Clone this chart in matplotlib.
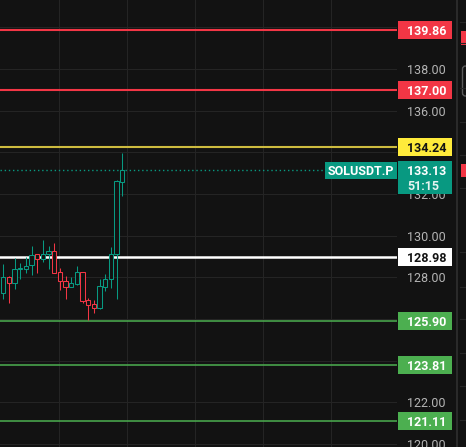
import matplotlib
matplotlib.use('Agg')
import matplotlib.pyplot as plt
from matplotlib.patches import Rectangle, FancyBboxPatch

# ---- data ----
opens  = [127.23, 128.00, 127.71, 128.38, 128.41, 128.57, 129.10, 128.86, 129.13, 129.25, 128.24,
          127.81, 127.55, 127.68, 128.24, 126.89, 126.72, 126.54, 127.55, 127.90, 129.13, 132.59]
highs  = [128.64, 128.06, 128.93, 128.67, 128.99, 129.50, 129.10, 129.79, 129.50, 129.65, 128.45,
          128.06, 128.03, 128.54, 128.24, 127.01, 126.91, 127.90, 128.16, 129.45, 132.67, 133.97]
lows   = [126.97, 126.75, 127.45, 127.93, 128.22, 128.13, 128.22, 128.73, 128.41, 128.19, 127.39,
          126.97, 127.55, 127.61, 126.78, 125.95, 126.27, 126.49, 127.36, 127.49, 126.97, 131.92]
closes = [128.00, 127.71, 128.38, 128.45, 128.54, 129.09, 128.86, 129.135, 129.25, 128.19, 127.81,
          127.55, 127.71, 128.24, 126.88, 126.69, 126.54, 127.58, 127.90, 129.13, 132.61, 133.13]

level_prices = [139.86, 137.00, 134.24, 128.98, 125.90, 123.81, 121.11]
level_kinds  = ['red', 'red', 'yellow', 'white', 'green', 'green', 'green']
tick_prices  = [138, 136, 132, 130, 128, 122, 120]
grid_prices  = [140, 138, 136, 134, 132, 130, 128, 126, 124, 122, 120]
vgrid_index  = [9.83, 21.83, 33.83, 45.83, 57.83]
last_price   = 133.13
countdown    = '51:15'
symbol       = 'SOLUSDT.P'

# ---- style ----
W, H = 466, 447
BG = '#121212'
GRID = '#242424'
UP = '#089981'
DOWN = '#F23645'
line_style = {
    'red':    dict(color='#F23645', lw=1.5, box='#F23645', txt='white'),
    'yellow': dict(color='#CDBB3F', lw=1.5, box='#FFEB3B', txt='#131313'),
    'white':  dict(color='#FFFFFF', lw=1.8, box='#FFFFFF', txt='#131313'),
    'green':  dict(color='#4CAF50', lw=1.1, box='#4CAF50', txt='white'),
}
FONT = ['Roboto', 'DejaVu Sans']

ymax, ymin = 141.315, 119.855
ppu = H / (ymax - ymin)          # pixels per price unit
px_per_bar = 5.667
xmin = -3.3 / px_per_bar
chart_w = 397
xmax = xmin + chart_w / px_per_bar

fig = plt.figure(figsize=(W / 100, H / 100), dpi=100, facecolor=BG)

# main chart
ax = fig.add_axes([0, 0, chart_w / W, 1])
ax.set_facecolor(BG)
ax.set_xlim(xmin, xmax)
ax.set_ylim(ymin, ymax)
ax.axis('off')
for g in grid_prices:
    ax.axhline(g, color=GRID, lw=0.8, zorder=0)
for v in vgrid_index:
    ax.axvline(v, color=GRID, lw=0.8, zorder=0)

for kind, p in zip(level_kinds, level_prices):
    st = line_style[kind]
    ax.axhline(p, color=st['color'], lw=st['lw'], zorder=2)

bw = 0.76
for i, (o, h, l, c) in enumerate(zip(opens, highs, lows, closes)):
    col = UP if c >= o else DOWN
    top, bot = max(o, c), min(o, c)
    ax.add_patch(Rectangle((i - bw / 2, bot), bw, max(top - bot, 0.03), facecolor=BG,
                           edgecolor=col, lw=0.75, zorder=3))
    ax.plot([i, i], [top, h], color=col, lw=0.75, zorder=3, solid_capstyle='butt')
    ax.plot([i, i], [lows[i], bot], color=col, lw=0.75, zorder=3, solid_capstyle='butt')

# last price dotted line + symbol label
lab_w = 72 / px_per_bar
ax.plot([xmin, xmax - lab_w], [last_price, last_price], color=UP, lw=1.0,
        linestyle=(0, (1, 2)), zorder=2)
hb = 17 / ppu
ax.add_patch(Rectangle((xmax - lab_w, last_price - hb / 2), lab_w, hb, facecolor=UP,
                       edgecolor='none', zorder=5))
ax.text(xmax - lab_w / 2, last_price, symbol, color='white', fontsize=9, fontweight='bold',
        family=FONT, ha='center', va='center_baseline', zorder=6)

# price scale
ax2 = fig.add_axes([chart_w / W, 0, 59 / W, 1])
ax2.set_facecolor(BG)
ax2.set_xlim(0, 59)
ax2.set_ylim(ymin, ymax)
ax2.axis('off')
for t in tick_prices:
    ax2.text(10.5, t, f'{t:.2f}', color='#b4b4b4', fontsize=9, family=FONT,
             ha='left', va='center_baseline', zorder=1)

bh = 18 / ppu
for kind, p in zip(level_kinds, level_prices):
    st = line_style[kind]
    ax2.add_patch(Rectangle((1, p - bh / 2), 54, bh, facecolor=st['box'], edgecolor='none', zorder=4))
    ax2.text(10.5, p, f'{p:.2f}', color=st['txt'], fontsize=9, fontweight='bold', family=FONT,
             ha='left', va='center_baseline', zorder=5)

top_off = 9.4 / ppu
box_h = 33 / ppu
ax2.add_patch(Rectangle((1, last_price + top_off - box_h), 54, box_h, facecolor=UP,
                        edgecolor='none', zorder=4))
ax2.text(10.5, last_price, f'{last_price:.2f}', color='white', fontsize=9, fontweight='bold',
         family=FONT, ha='left', va='center_baseline', zorder=5)
ax2.text(10.5, last_price - 15 / ppu, countdown, color='#e6f4f1', fontsize=9, fontweight='bold',
         family=FONT, ha='left', va='center_baseline', zorder=5)

# right sidebar strip
ax3 = fig.add_axes([456 / W, 0, 10 / W, 1])
ax3.set_facecolor('#151515')
ax3.set_xlim(0, 10)
ax3.set_ylim(H, 0)
ax3.axis('off')
ax3.add_patch(Rectangle((0, 0), 2, H, facecolor='#2a2a2a', edgecolor='none'))
for yy in [22, 43, 88, 122, 155, 188, 252, 287, 319, 353, 386, 420]:
    ax3.plot([4, 10], [yy, yy], color='#262626', lw=0.8)
for y0, y1 in [(31, 45), (164, 177)]:
    ax3.add_patch(Rectangle((5, y0), 6, y1 - y0, facecolor='#F23645', edgecolor='none'))
ax3.add_patch(FancyBboxPatch((6.5, 66), 10, 30, boxstyle='round,pad=0,rounding_size=3',
                             facecolor='none', edgecolor='#5a5a5a', lw=1.0))

fig.savefig('out.png', dpi=100, facecolor=BG)
